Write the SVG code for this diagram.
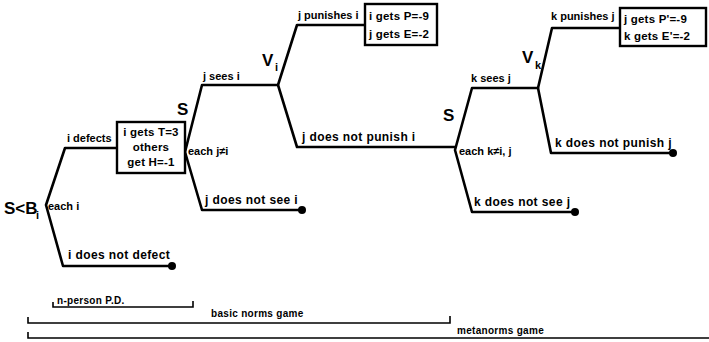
<svg xmlns="http://www.w3.org/2000/svg" width="709" height="342" viewBox="0 0 709 342">
<style>
.e{fill:none;stroke:#000;stroke-width:2.6;stroke-linejoin:round;stroke-linecap:round}
.b{fill:none;stroke:#000;stroke-width:1.6}
.box{fill:#fff;stroke:#000;stroke-width:2.4}
.dot{fill:#000}
text{font-family:"Liberation Sans",Arial,sans-serif;font-weight:bold;font-size:11px;fill:#000}
.w{font-size:12px;letter-spacing:0.4px}
.bx{font-size:11.5px;letter-spacing:0.2px}
.big{font-size:17px}
.sm{font-size:10px;letter-spacing:0.3px}
</style>
<rect width="709" height="342" fill="#fff"/>
<g id="connectors">
<path class="e" d="M117,148 H65 L46,205 L63,266 H172"/>
<path class="e" d="M278,85 H202 L185,152 L202,210 H302"/>
<path class="e" d="M365,25 H297 L278,85 L297,147 H455"/>
<path class="e" d="M538,88 H472 L455,150 L472,212 H575"/>
<path class="e" d="M620,28 H552 L538,88 L551,153 H673"/>
<circle class="dot" cx="172" cy="266" r="4"/>
<circle class="dot" cx="302" cy="210" r="4"/>
<circle class="dot" cx="575" cy="212" r="4"/>
<circle class="dot" cx="673" cy="153" r="4"/>
</g>
<g id="root">
<text class="big" x="4" y="214">S&lt;B</text>
<text x="36" y="219">i</text>
<text x="48" y="210">each i</text>
<text x="67" y="142">i defects</text>
<text class="w" x="68" y="259">i does not defect</text>
</g>
<g id="payoff1">
<rect class="box" x="117" y="122" width="68" height="51"/>
<text class="bx" x="151" y="136" text-anchor="middle">i gets T=3</text>
<text class="bx" x="151" y="151" text-anchor="middle">others</text>
<text class="bx" x="151" y="166" text-anchor="middle">get H=-1</text>
</g>
<g id="nodeJ">
<text class="big" x="177" y="115">S</text>
<text x="188" y="155">each j≠i</text>
<text x="203" y="80">j sees i</text>
<text class="w" x="205" y="204">j does not see i</text>
</g>
<g id="nodeVi">
<text class="big" x="262" y="66">V</text>
<text x="275" y="71">i</text>
<text x="298" y="19">j punishes i</text>
<text class="w" x="302" y="141">j does not  punish i</text>
</g>
<g id="payoff2">
<rect class="box" x="365" y="4" width="72" height="41"/>
<text class="bx" x="369" y="20">i gets P=-9</text>
<text class="bx" x="369" y="38">j gets E=-2</text>
</g>
<g id="nodeK">
<text class="big" x="443" y="121">S</text>
<text x="459" y="155">each  k≠i, j</text>
<text x="471" y="82">k sees  j</text>
<text class="w" x="474" y="206">k does not see j</text>
</g>
<g id="nodeVk">
<text class="big" x="522" y="63">V</text>
<text x="535" y="69">k</text>
<text x="551" y="20">k punishes j</text>
<text class="w" x="555" y="147">k does not punish j</text>
</g>
<g id="payoff3">
<rect class="box" x="620" y="8" width="86" height="38"/>
<text class="bx" x="624" y="23">j gets  P'=-9</text>
<text class="bx" x="624" y="40">k gets  E'=-2</text>
</g>
<g id="brackets">
<path class="b" d="M53,302 V307 H193 V301"/>
<path class="b" d="M28,317 V323 H450 V316"/>
<path class="b" d="M28,332 V338 H709"/>
<text class="sm" x="57" y="304">n-person P.D.</text>
<text class="sm" x="211" y="317">basic norms game</text>
<text class="sm" x="457" y="334">metanorms  game</text>
</g>
</svg>
